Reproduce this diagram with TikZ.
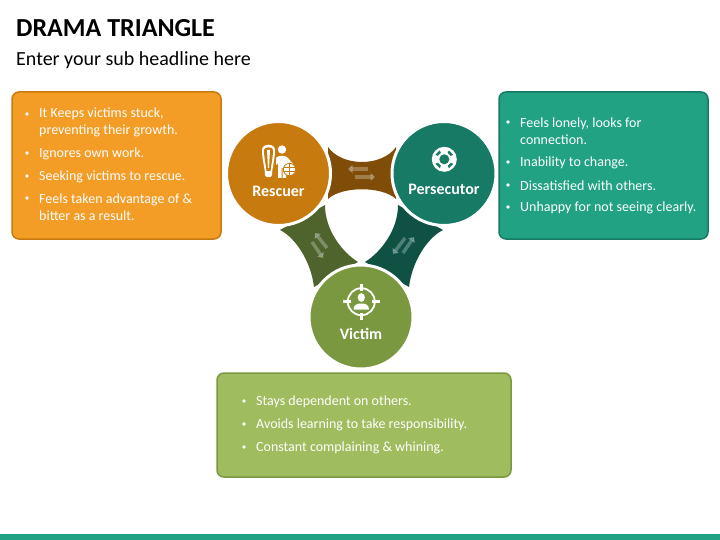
\documentclass[tikz,border=0pt]{standalone}
\usepackage{fontspec}
\setmainfont{Carlito}
\usetikzlibrary{arrows.meta}
\definecolor{orangebox}{HTML}{F39C26}
\definecolor{orangeline}{HTML}{C77B0E}
\definecolor{tealbox}{HTML}{21A383}
\definecolor{tealline}{HTML}{177A64}
\definecolor{olivebox}{HTML}{9FBC5E}
\definecolor{oliveline}{HTML}{7A983F}
\definecolor{brownband}{HTML}{7F4D08}
\definecolor{oliveband}{HTML}{4E642C}
\definecolor{tealband}{HTML}{0F5244}
\tikzset{
  textbox/.style={rounded corners=7pt,line width=1.5pt},
  role/.style={circle,draw=white,line width=3pt,minimum size=104pt,inner sep=0pt},
  rolename/.style={text=white,font=\bfseries\fontsize{16}{18}\selectfont,anchor=center},
  itemtext/.style={text=white,font=\fontsize{14}{17}\selectfont,anchor=west,inner sep=0pt,align=left},
  itemdot/.style={circle,fill=white,inner sep=0pt,minimum size=3.6pt},
  swap/.style={line width=3.4pt,-{Triangle[length=4.5pt,width=8pt]},opacity=.27,draw=white}
}
\begin{document}
\begin{tikzpicture}[x=1pt,y=-1pt]
   \useasboundingbox (0,0) rectangle (720,540);
   \fill[white] (0,0) rectangle (720,540);
   % title
   \node[anchor=base west,inner sep=0pt,font=\bfseries\fontsize{26}{28}\selectfont] (title) at (16,37) {DRAMA TRIANGLE};
   \node[anchor=base west,inner sep=0pt,font=\fontsize{20}{22}\selectfont] (subtitle) at (16,66) {Enter your sub headline here};
   \fill[tealbox] (0,534) rectangle (720,540);
   % boxes
   \draw[textbox,fill=orangebox,draw=orangeline] (12,92) rectangle (221,239);
   \draw[textbox,fill=tealbox,draw=tealline] (499,92) rectangle (708,239);
   \draw[textbox,fill=olivebox,draw=oliveline] (217,373) rectangle (511,477);
   % bands
   \fill[brownband] (328,147) .. controls (342,167) and (382,167) .. (396,147) -- (396,199) .. controls (382,186) and (342,186) .. (328,199) -- cycle;
   \fill[oliveband] (325,205) .. controls (325,230) and (342,252) .. (358,262) -- (314,287) .. controls (311,262) and (296,238) .. (280,230) -- cycle;
   \fill[tealband] (398,205) .. controls (398,230) and (381,252) .. (365,262) -- (409,287) .. controls (412,262) and (427,238) .. (443,230) -- cycle;
   % swap arrows
   \draw[swap] (368,169) -- (348,169);
   \draw[swap] (355,177) -- (375,177);
   \draw[swap] (327,248) -- (315,233);
   \draw[swap] (312,242) -- (323,258);
   \draw[swap] (403,253) -- (414,237);
   \draw[swap] (405,238) -- (393,254);
   % circles
   \node[role,fill=orangeline] (rescuer) at (278.5,173.5) {};
   \node[role,fill=tealline] (persecutor) at (444,173.5) {};
   \node[role,fill=oliveline] (victim) at (361,317) {};
   \node[rolename] (rescuername) at (278.5,191.5) {Rescuer};
   \node[rolename] (persecutorname) at (444,189) {Persecutor};
   \node[rolename] (victimname) at (361,334) {Victim};
   % rescuer icon
   \fill[white] (262,150) .. controls (262,143) and (275,143) .. (275,150) .. controls (275,160) and (272,168) .. (272,175) .. controls (272,178) and (265,178) .. (265,175) .. controls (265,168) and (262,160) .. (262,150) -- cycle;
   \fill[orangeline] (264,150) .. controls (264,146.5) and (273,146.5) .. (273,150) .. controls (273,158) and (271,165) .. (270.5,171) -- (266.5,171) .. controls (266,165) and (264,158) .. (264,150) -- cycle;
   \fill[white] (267,150) -- (270,150) -- (269,168) -- (268,168) -- cycle;
   \fill[white] (282,149.5) circle (4.2);
   \fill[white] (276,158) .. controls (278,155) and (286,155) .. (288,158) -- (293,164) -- (286,166) -- (286,178) -- (282.5,178) -- (282.5,168) -- (281.5,168) -- (281.5,178) -- (278,178) -- (278,163) -- (276,165) -- cycle;
   \draw[orangeline,fill=white,line width=.8pt] (289.5,169.5) circle (6.2);
   \draw[orangeline,line width=.7pt] (284,167.5) -- (295,167.5) (284,171.5) -- (295,171.5) (289.5,163.5) -- (289.5,175.5);
   % persecutor icon
   \fill[white] (444.3,159.3) circle (12.5);
   \fill[tealline] (444.3,159.3) circle (5);
   \foreach \ang in {45,135,225,315}
     \fill[tealline,shift={(444.3,159.3)},rotate=\ang] (7,-2.2) -- (9.5,-3) -- (9.5,3) -- (7,2.2) -- cycle;
   % victim icon
   \draw[white,line width=1.8pt] (361.3,301.7) circle (13.5);
   \draw[white,line width=2.6pt] (361.3,283.5) -- (361.3,291) (361.3,312.5) -- (361.3,320) (343,301.7) -- (350.5,301.7) (372,301.7) -- (379.5,301.7);
   \fill[white] (361.3,297.5) ellipse (3.6 and 4.4);
   \fill[white] (353.5,309.5) .. controls (353.5,304) and (358,303.5) .. (361.3,303.5) .. controls (364.5,303.5) and (369,304) .. (369,309.5) -- cycle;
   % bullets
   \node[itemdot] (d1) at (27,114) {};
   \node[itemtext] (r1) at (39,122.5) {It Keeps victims stuck,\\preventing their growth.};
   \node[itemdot] (d2) at (27,153) {};
   \node[itemtext] (r2) at (39,154) {Ignores own work.};
   \node[itemdot] (d3) at (27,176) {};
   \node[itemtext] (r3) at (39,176.5) {Seeking victims to rescue.};
   \node[itemdot] (d4) at (27,198) {};
   \node[itemtext] (r4) at (39,207.5) {Feels taken advantage of \&\\bitter as a result.};
   \node[itemdot] (d5) at (508,122) {};
   \node[itemtext] (p1) at (520,131.5) {Feels lonely, looks for\\connection.};
   \node[itemdot] (d6) at (508,162) {};
   \node[itemtext] (p2) at (520,162.5) {Inability to change.};
   \node[itemdot] (d7) at (508,185) {};
   \node[itemtext] (p3) at (520,185.5) {Dissatisfied with others.};
   \node[itemdot] (d8) at (508,207) {};
   \node[itemtext] (p4) at (520,208) {Unhappy for not seeing clearly.};
   \node[itemdot] (d9) at (244,401) {};
   \node[itemtext] (v1) at (256,401.5) {Stays dependent on others.};
   \node[itemdot] (d10) at (244,424) {};
   \node[itemtext] (v2) at (256,424.5) {Avoids learning to take responsibility.};
   \node[itemdot] (d11) at (244,447) {};
   \node[itemtext] (v3) at (256,447.5) {Constant complaining \& whining.};
\end{tikzpicture}
\end{document}
